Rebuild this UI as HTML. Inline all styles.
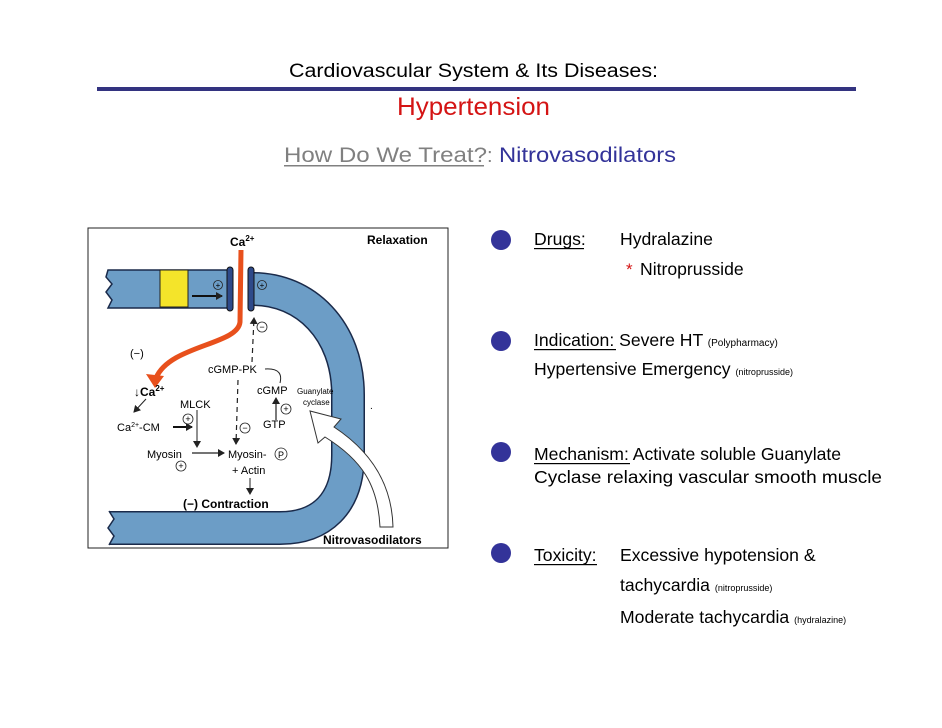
<!DOCTYPE html>
<html><head><meta charset="utf-8"><style>
html,body{margin:0;padding:0;background:#fff;}
svg{display:block;}
text{font-family:"Liberation Sans",sans-serif;}
</style></head><body>
<svg width="942" height="728" viewBox="0 0 942 728" xmlns="http://www.w3.org/2000/svg">
<defs>
<marker id="ah" markerWidth="8" markerHeight="8" refX="6" refY="4" orient="auto" markerUnits="userSpaceOnUse"><path d="M0,0 L7,4 L0,8 z" fill="#222"/></marker>
</defs>
<!-- header -->
<text x="289" y="77" font-size="19" textLength="369" lengthAdjust="spacingAndGlyphs" fill="#000">Cardiovascular System &amp; Its Diseases:</text>
<rect x="97" y="87" width="759" height="4" fill="#333380"/>
<text x="397" y="115" font-size="25" textLength="153" lengthAdjust="spacingAndGlyphs" fill="#d41414">Hypertension</text>
<text x="284" y="162" font-size="21" textLength="203" lengthAdjust="spacingAndGlyphs" fill="#808080">How Do We Treat?</text>
<rect x="284" y="165" width="200" height="1.5" fill="#808080"/>
<text x="487" y="162" font-size="20" fill="#808080">:</text>
<text x="499" y="162" font-size="21" textLength="177" lengthAdjust="spacingAndGlyphs" fill="#333399">Nitrovasodilators</text>

<!-- diagram frame -->
<rect x="88" y="228" width="360" height="320" fill="#fff" stroke="#222" stroke-width="1"/>
<!-- left band -->
<path d="M108,270 L230,270 L230,308 L108,308 L112,300 L106,292 L112,284 L106,277 z" fill="#6c9dc6" stroke="#1a2a4a" stroke-width="1.5"/>
<rect x="160" y="270" width="28" height="37" fill="#f4e42a" stroke="#222" stroke-width="1"/>
<line x1="192" y1="296" x2="222" y2="296" stroke="#111" stroke-width="2" marker-end="url(#ah)"/>
<circle cx="218" cy="285" r="4.5" fill="none" stroke="#222" stroke-width="0.8"/>
<text x="218" y="288" font-size="8" text-anchor="middle">+</text>
<!-- right curved pipe -->
<path d="M253,289 C305,289 348,330 348,395 L348,455 C348,505 320,528 280,528 L108,528" fill="none" stroke="#1a2a4a" stroke-width="34"/>
<path d="M253,289 C305,289 348,330 348,395 L348,455 C348,505 320,528 280,528 L108,528" fill="none" stroke="#6c9dc6" stroke-width="31"/>
<path d="M109,510 L114,519 L108,528 L114,536 L109,546 L92,546 L92,510 z" fill="#fff"/>
<path d="M109,511 L114,519 L108,528 L114,536 L109,545" fill="none" stroke="#1a2a4a" stroke-width="1.5"/>
<circle cx="262" cy="285" r="4.5" fill="none" stroke="#222" stroke-width="0.8"/>
<text x="262" y="288" font-size="8" text-anchor="middle">+</text>
<!-- caps -->
<rect x="227" y="267" width="6" height="44" rx="3" fill="#2e4a8a" stroke="#111" stroke-width="1"/>
<rect x="248" y="267" width="6" height="44" rx="3" fill="#2e4a8a" stroke="#111" stroke-width="1"/>
<!-- red Ca path -->
<path d="M241,250 L240,322 C238,345 170,345 156,378" fill="none" stroke="#e8501c" stroke-width="5"/>
<path d="M146,374 L155,388 L164,376 z" fill="#e8501c"/>
<!-- labels -->
<text x="230" y="246" font-size="12" font-weight="bold">Ca<tspan font-size="8" dy="-5">2+</tspan></text>
<text x="367" y="244" font-size="12" font-weight="bold">Relaxation</text>
<text x="130" y="357" font-size="11">(−)</text>
<text x="208" y="373" font-size="11">cGMP-PK</text>
<text x="134" y="396" font-size="12" font-weight="bold">↓Ca<tspan font-size="8" dy="-5">2+</tspan></text>
<text x="180" y="408" font-size="11">MLCK</text>
<text x="257" y="394" font-size="11">cGMP</text>
<text x="297" y="394" font-size="8">Guanylate</text>
<text x="303" y="405" font-size="8">cyclase</text>
<text x="263" y="428" font-size="11">GTP</text>
<text x="117" y="431" font-size="11">Ca<tspan font-size="7" dy="-4">2+</tspan><tspan dy="4">-CM</tspan></text>
<text x="147" y="458" font-size="11">Myosin</text>
<text x="228" y="458" font-size="11">Myosin-</text>
<circle cx="281" cy="454" r="6" fill="none" stroke="#222" stroke-width="0.8"/>
<text x="281" y="458" font-size="9" text-anchor="middle">P</text>
<text x="232" y="474" font-size="11">+ Actin</text>
<text x="183" y="508" font-size="12" font-weight="bold">(−) Contraction</text>
<text x="323" y="544" font-size="12" font-weight="bold">Nitrovasodilators</text>
<!-- small circles -->
<circle cx="262" cy="327" r="5" fill="none" stroke="#222" stroke-width="0.8"/><text x="262" y="330" font-size="9" text-anchor="middle">−</text>
<circle cx="245" cy="428" r="5" fill="none" stroke="#222" stroke-width="0.8"/><text x="245" y="431" font-size="9" text-anchor="middle">−</text>
<circle cx="188" cy="419" r="5" fill="none" stroke="#222" stroke-width="0.8"/><text x="188" y="422" font-size="9" text-anchor="middle">+</text>
<circle cx="181" cy="466" r="5" fill="none" stroke="#222" stroke-width="0.8"/><text x="181" y="469" font-size="9" text-anchor="middle">+</text>
<circle cx="286" cy="409" r="5" fill="none" stroke="#222" stroke-width="0.8"/><text x="286" y="412" font-size="9" text-anchor="middle">+</text>
<!-- arrows -->
<line x1="252" y1="362" x2="254" y2="318" stroke="#222" stroke-width="1.2" stroke-dasharray="5,4" marker-end="url(#ah)"/>
<line x1="238" y1="380" x2="236" y2="444" stroke="#222" stroke-width="1.2" stroke-dasharray="5,4" marker-end="url(#ah)"/>
<line x1="173" y1="427" x2="192" y2="427" stroke="#111" stroke-width="2" marker-end="url(#ah)"/>
<line x1="197" y1="410" x2="197" y2="447" stroke="#222" stroke-width="1" marker-end="url(#ah)"/>
<line x1="192" y1="453" x2="224" y2="453" stroke="#222" stroke-width="1.2" marker-end="url(#ah)"/>
<line x1="276" y1="420" x2="276" y2="398" stroke="#222" stroke-width="1.2" marker-end="url(#ah)"/>
<path d="M265,369 C280,368 282,375 280,383" fill="none" stroke="#222" stroke-width="1"/>
<line x1="250" y1="478" x2="250" y2="494" stroke="#222" stroke-width="1" marker-end="url(#ah)"/>
<line x1="146" y1="399" x2="134" y2="412" stroke="#222" stroke-width="1" marker-end="url(#ah)"/>
<text x="370" y="409" font-size="10">.</text>
<!-- big white arrow -->
<path d="M380,527 C378,485 362,460 325,437 L318,443 L310,411 L341,419 L334,427 C372,452 392,485 393,527 z" fill="#fff" stroke="#333" stroke-width="1"/>

<!-- bullets -->
<g fill="#333399">
<circle cx="501" cy="240" r="10"/><circle cx="501" cy="341" r="10"/><circle cx="501" cy="452" r="10"/><circle cx="501" cy="553" r="10"/>
</g>
<g font-size="17.6" fill="#000">
<text x="534" y="245">Drugs:</text><rect x="534" y="248" width="50" height="1.2" fill="#000"/>
<text x="620" y="245">Hydralazine</text>
<text x="626" y="275" fill="#d41414" font-size="17">*</text>
<text x="640" y="275">Nitroprusside</text>
<text x="534" y="346">Indication<tspan>: Severe HT </tspan><tspan font-size="10">(Polypharmacy)</tspan></text>
<rect x="534" y="349" width="82" height="1.2" fill="#000"/>
<text x="534" y="375">Hypertensive Emergency <tspan font-size="9">(nitroprusside)</tspan></text>
<text x="534" y="460">Mechanism: Activate soluble Guanylate</text>
<rect x="534" y="463" width="96" height="1.2" fill="#000"/>
<text x="534" y="483" textLength="348" lengthAdjust="spacingAndGlyphs">Cyclase relaxing vascular smooth muscle</text>
<text x="534" y="561">Toxicity:</text><rect x="534" y="564" width="63" height="1.2" fill="#000"/>
<text x="620" y="561">Excessive hypotension &amp;</text>
<text x="620" y="591">tachycardia <tspan font-size="9">(nitroprusside)</tspan></text>
<text x="620" y="623">Moderate tachycardia <tspan font-size="9">(hydralazine)</tspan></text>
</g>
</svg>
</body></html>
